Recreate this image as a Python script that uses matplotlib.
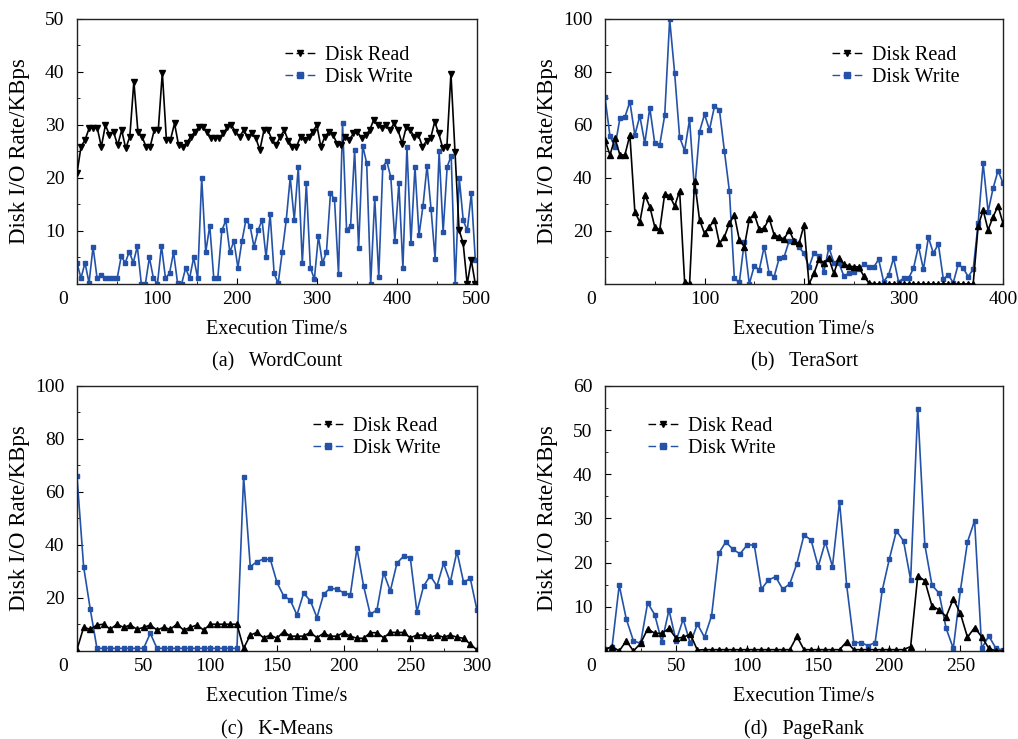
"""Disk I/O rate over execution time for four Hadoop workloads."""

import numpy as np
import matplotlib.pyplot as plt
import matplotlib.transforms as mtransforms
from matplotlib.lines import Line2D
from matplotlib.ticker import MultipleLocator

plt.rcParams["font.family"] = ["Liberation Serif", "DejaVu Serif"]
plt.rcParams["font.size"] = 14

BLUE = "#2352a8"

# (a) WordCount, ~5 s sampling up to ~498 s
wc_end = 498
wc_read = [20.9, 25.9, 27.2, 29.4, 29.4, 29.4, 25.9, 30.0, 28.1, 28.7,
           26.2, 29.0, 25.6, 27.8, 38.2, 28.7, 27.8, 25.9, 25.9, 29.0,
           29.0, 39.9, 27.2, 27.2, 30.3, 26.2, 25.9, 26.6, 27.8, 28.7,
           29.6, 29.6, 28.7, 27.5, 27.5, 27.5, 28.4, 29.6, 30.0, 28.7,
           27.8, 29.0, 27.8, 28.4, 27.5, 25.3, 29.0, 29.0, 27.2, 26.2,
           27.8, 29.0, 27.0, 25.9, 25.9, 27.8, 27.2, 27.8, 28.7, 30.0,
           25.9, 27.8, 28.7, 28.1, 26.5, 26.2, 27.8, 27.2, 28.4, 28.7,
           27.5, 28.1, 29.0, 31.0, 30.0, 29.4, 30.0, 29.0, 30.3, 29.0,
           26.5, 29.6, 29.0, 27.8, 28.1, 25.9, 27.0, 27.5, 30.6, 28.4,
           25.6, 25.9, 39.7, 24.9, 10.2, 7.7, 0.0, 4.5, 0.0]
wc_write = [4.0, 1.1, 4.0, 0.2, 7.0, 1.1, 1.7, 1.1, 1.1, 1.1,
            1.1, 5.2, 4.0, 6.1, 4.0, 7.1, 0.0, 0.0, 5.0, 1.1,
            0.0, 7.2, 1.1, 2.0, 6.0, 0.2, 0.0, 3.0, 1.1, 5.0,
            1.1, 20.0, 6.0, 11.0, 1.1, 1.1, 10.1, 12.0, 6.0, 8.1,
            3.1, 8.1, 12.1, 11.0, 7.0, 10.1, 12.1, 5.0, 13.2, 2.0,
            0.1, 6.0, 12.0, 20.1, 12.1, 22.1, 3.9, 19.0, 3.1, 0.9,
            9.0, 3.9, 6.0, 17.1, 16.0, 1.9, 30.3, 10.2, 11.0, 25.2,
            6.8, 26.1, 22.8, 0.0, 16.2, 1.4, 22.1, 23.2, 20.1, 8.1,
            19.0, 3.0, 25.9, 7.8, 22.1, 9.2, 14.8, 22.3, 14.1, 4.8,
            25.0, 9.8, 22.1, 24.2, 0.0, 20.0, 12.0, 10.1, 17.1, 4.5]

# (b) TeraSort, 5 s sampling
ts_end = 400
ts_read = [54.3, 48.7, 55.0, 48.7, 48.7, 56.2, 27.3, 23.3, 33.6, 29.2,
           21.6, 20.4, 34.0, 33.3, 29.4, 35.1, 0.9, 0.0, 39.0, 24.2,
           19.1, 21.6, 24.2, 15.3, 17.8, 22.9, 26.0, 16.6, 14.1, 24.4,
           26.4, 20.6, 21.1, 24.8, 18.5, 17.8, 16.9, 20.4, 16.2, 15.3,
           22.3, 0.0, 4.0, 9.3, 8.0, 9.7, 4.0, 9.7, 7.5, 6.8,
           6.5, 6.5, 3.0, 0.5, 0.0, 0.0, 0.0, 0.0, 0.0, 0.0,
           0.0, 0.0, 0.0, 0.0, 0.0, 0.0, 0.0, 0.0, 0.0, 0.0,
           0.0, 0.0, 0.0, 0.0, 0.0, 21.9, 27.9, 20.4, 25.4, 29.4,
           22.9]
ts_write = [70.4, 55.8, 51.8, 62.5, 63.0, 68.8, 56.2, 63.4, 53.1, 66.5,
            53.1, 52.5, 63.6, 99.9, 79.5, 55.4, 50.3, 62.1, 35.1, 57.5,
            64.0, 58.2, 67.0, 65.7, 50.2, 35.1, 2.1, 0.6, 16.0, 0.0,
            6.8, 5.3, 14.1, 4.0, 2.8, 9.7, 10.2, 16.2, 16.3, 13.8,
            11.6, 6.3, 11.8, 10.6, 4.6, 13.8, 8.0, 8.0, 3.0, 4.0,
            4.6, 5.5, 7.4, 6.5, 6.3, 9.3, 0.9, 3.4, 9.7, 0.9,
            2.1, 2.1, 5.9, 14.3, 5.5, 17.6, 11.6, 15.1, 1.8, 3.4,
            0.5, 7.5, 5.9, 2.8, 5.5, 22.9, 45.5, 27.3, 36.1, 42.8,
            38.0]

# (c) K-Means, 5 s sampling
km_end = 300
km_read = [0.5, 8.9, 8.2, 9.8, 10.1, 8.2, 10.1, 8.9, 9.8, 8.2,
           8.9, 9.8, 7.9, 8.9, 8.2, 10.1, 7.9, 8.9, 9.8, 7.9,
           10.1, 10.1, 10.1, 10.1, 10.1, 1.0, 6.0, 7.0, 5.0, 6.0,
           4.8, 7.3, 5.6, 5.6, 5.6, 7.0, 5.0, 6.7, 5.6, 5.6,
           6.9, 5.6, 4.8, 4.8, 6.9, 6.9, 5.0, 7.0, 7.0, 7.0,
           5.0, 6.0, 6.0, 5.2, 6.0, 5.2, 6.0, 5.2, 4.8, 2.6,
           0.4]
km_write = [66.0, 31.8, 15.7, 1.0, 1.0, 1.0, 1.0, 1.0, 1.0, 1.0,
            1.0, 6.7, 1.0, 1.0, 1.0, 1.0, 1.0, 1.0, 1.0, 1.0,
            1.0, 1.0, 1.0, 1.0, 1.0, 65.8, 31.8, 33.7, 34.7, 34.6,
            25.9, 20.8, 19.2, 13.6, 21.8, 19.0, 12.6, 21.4, 23.7, 23.3,
            22.0, 21.1, 38.7, 24.5, 13.8, 15.5, 29.6, 22.6, 33.1, 35.8,
            35.2, 14.8, 24.5, 28.4, 24.5, 33.1, 25.9, 37.5, 25.9, 27.4,
            15.5]

# (d) PageRank, 5 s sampling
pr_end = 280
pr_read = [0.3, 1.0, 0.0, 2.3, 0.0, 1.7, 5.0, 4.0, 4.0, 5.1,
           2.9, 3.1, 3.8, 0.2, 0.3, 0.3, 0.3, 0.3, 0.3, 0.3,
           0.3, 0.3, 0.3, 0.3, 0.3, 0.3, 0.3, 3.3, 0.3, 0.3,
           0.3, 0.3, 0.3, 0.3, 2.1, 0.3, 0.3, 0.3, 0.3, 0.3,
           0.3, 0.3, 0.3, 1.0, 17.0, 15.9, 10.2, 9.3, 7.8, 11.8,
           8.5, 3.1, 5.3, 3.2, 0.6, 0.0, 0.0]
pr_write = [0.4, 1.0, 14.9, 7.2, 2.3, 1.7, 10.9, 8.2, 2.0, 9.3,
            2.3, 7.2, 1.7, 6.1, 3.1, 8.0, 22.1, 24.7, 23.0, 22.0,
            24.0, 24.0, 14.0, 16.1, 16.8, 14.0, 15.2, 19.8, 26.3, 25.1,
            19.1, 24.7, 19.1, 33.8, 14.9, 1.9, 1.9, 1.2, 1.9, 13.7,
            20.8, 27.2, 24.9, 16.1, 54.9, 24.0, 14.9, 13.1, 5.1, 0.6,
            13.7, 24.7, 29.5, 0.6, 3.4, 0.6, 0.2]

panels = [
    dict(rect=[0.0756, 0.6157, 0.3929, 0.3586], read=wc_read, write=wc_write, end=wc_end,
         xlim=500, xmaj=100, xmin=50, ylim=50, ymaj=10, ymin=5, rmark="v",
         caption="(a)   WordCount", cap_xy=(0.272, 0.510), leg=(0.52, 0.90)),
    dict(rect=[0.5943, 0.6157, 0.3910, 0.3586], read=ts_read, write=ts_write, end=ts_end,
         xlim=400, xmaj=100, xmin=50, ylim=100, ymaj=20, ymin=10, rmark="^",
         caption="(b)   TeraSort", cap_xy=(0.790, 0.510), leg=(0.57, 0.90)),
    dict(rect=[0.0756, 0.1191, 0.3929, 0.3586], read=km_read, write=km_write, end=km_end,
         xlim=300, xmaj=50, xmin=25, ylim=100, ymaj=20, ymin=10, rmark="^",
         caption="(c)   K-Means", cap_xy=(0.272, 0.013), leg=(0.59, 0.884)),
    dict(rect=[0.5943, 0.1191, 0.3910, 0.3586], read=pr_read, write=pr_write, end=pr_end,
         xlim=280, xmaj=50, xmin=25, ylim=60, ymaj=10, ymin=5, rmark="^",
         caption="(d)   PageRank", cap_xy=(0.790, 0.013), leg=(0.108, 0.884)),
]

fig = plt.figure(figsize=(10.18, 7.39), dpi=100)
zero_shift = mtransforms.ScaledTranslation(-10 / 72, 0, fig.dpi_scale_trans)

legend_dash = (0, (5.5, 2.5))
legend_handles = [
    Line2D([], [], color="black", lw=1.0, ls=legend_dash, marker="v", markersize=4.5),
    Line2D([], [], color=BLUE, lw=1.0, ls=legend_dash, marker="s", markersize=3.8),
]

for p in panels:
    ax = fig.add_axes(p["rect"])
    t_read = np.linspace(0, p["end"], len(p["read"]))
    t_write = np.linspace(0, p["end"], len(p["write"]))
    ax.plot(t_write, p["write"], color=BLUE, lw=1.2, marker="s", markersize=3.3, zorder=2)
    ax.plot(t_read, p["read"], color="black", lw=1.2, marker=p["rmark"], markersize=4.3, zorder=3)

    ax.set_xlim(0, p["xlim"])
    ax.set_ylim(0, p["ylim"])
    ax.set_xticks(np.arange(0, p["xlim"] + 1, p["xmaj"]))
    ax.set_yticks(np.arange(p["ymaj"], p["ylim"] + 1, p["ymaj"]))
    ax.xaxis.set_minor_locator(MultipleLocator(p["xmin"]))
    ax.yaxis.set_minor_locator(MultipleLocator(p["ymin"]))
    ax.tick_params(which="both", direction="in", top=False, right=False, labelsize=14)
    ax.tick_params(which="major", length=4)
    ax.tick_params(which="minor", length=2.5)
    ax.tick_params(axis="x", which="major", pad=5)
    ax.tick_params(axis="y", which="major", pad=9)
    for s in ax.spines.values():
        s.set_linewidth(1.0)
        s.set_color("#222222")

    lbl = ax.xaxis.get_major_ticks()[0].label1
    lbl.set_transform(lbl.get_transform() + zero_shift)

    ax.set_xlabel("Execution Time/s", fontsize=14.5)
    ax.xaxis.set_label_coords(0.5, -0.135)
    ax.set_ylabel("Disk I/O Rate/KBps", fontsize=16.5)
    ax.yaxis.set_label_coords(-0.118, 0.5)

    ax.legend(legend_handles, ["Disk Read", "Disk Write"], loc="upper left",
              bbox_to_anchor=p["leg"], frameon=False, borderpad=0, borderaxespad=0,
              handlelength=1.5, handletextpad=0.5, labelspacing=0.15, numpoints=1,
              fontsize=14.5)

    fig.text(p["cap_xy"][0], p["cap_xy"][1], p["caption"], ha="center", va="center", fontsize=14.5)

fig.savefig("out.png", dpi=100)
